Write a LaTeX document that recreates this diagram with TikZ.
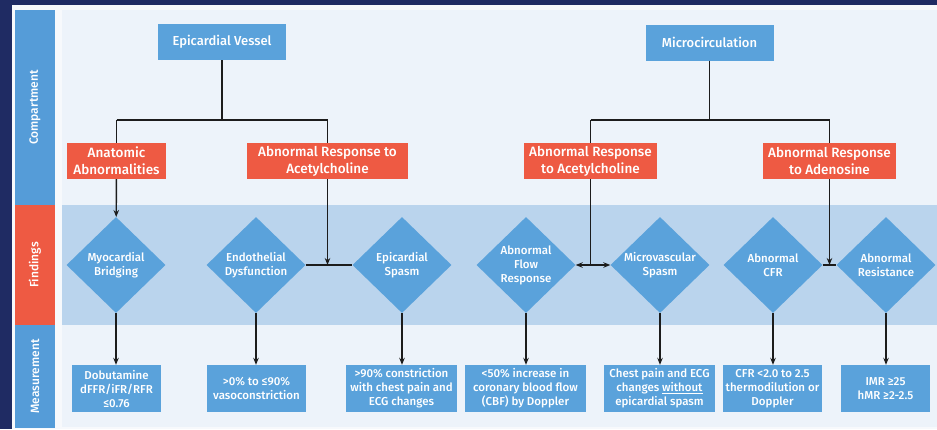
\documentclass[tikz,border=0pt]{standalone}
\usepackage{fontspec}
\IfFontExistsTF{Fira Sans Medium}
  {\setmainfont{Fira Sans}[BoldFont={Fira Sans Medium}]}
  {\setmainfont{Fira Sans}}
\usetikzlibrary{positioning,arrows.meta,shapes.geometric,calc}
\definecolor{navy}{HTML}{1F2B63}
\definecolor{paper}{HTML}{F7F9FC}
\definecolor{panel}{HTML}{EDF3FA}
\definecolor{band}{HTML}{BAD4ED}
\definecolor{boxblue}{HTML}{5AA2DB}
\definecolor{colblue}{HTML}{559CD8}
\definecolor{boxred}{HTML}{EE5A43}
\definecolor{linkdark}{HTML}{1C1C1C}

\begin{document}
\begin{tikzpicture}[
  x=1pt, y=1pt,
  link/.style={draw=linkdark, line width=1.4pt},
  arr/.style={link, -{Stealth[length=7pt, width=5.5pt]}},
  % compartment headings at the top of each tree
  comp/.style={fill=boxblue, text=white, font=\fontsize{13}{16}\selectfont\bfseries,
               minimum width=128pt, minimum height=36pt, inner sep=0, align=center},
  % red trigger boxes
  trig/.style={fill=boxred, text=white, font=\fontsize{13.5}{17}\selectfont\bfseries,
               minimum height=36pt, inner sep=0, align=center},
  find/.style={diamond, fill=boxblue, text=white, inner sep=-3pt,
               minimum width=99pt, minimum height=96pt, align=center,
               font=\fontsize{11.5}{14}\selectfont\bfseries},
  meas/.style={fill=boxblue, text=white, minimum height=47pt, inner sep=0,
               align=center, font=\fontsize{11.5}{14}\selectfont\bfseries},
  side/.style={rotate=90, text=white, font=\fontsize{12}{14}\selectfont\bfseries}
]
\useasboundingbox (0,0) rectangle (937,-429);

% ══ backgrounds ════════════════════════════════════════════════════════════
\fill[navy] (0,0) rectangle (937,-429);
\fill[paper] (12,-5) rectangle (937,-429);
\fill[panel] (62,-10) rectangle (937,-205);
\fill[band]  (62,-205) rectangle (937,-325);
\fill[panel] (62,-325) rectangle (937,-427);

% ══ side column ════════════════════════════════════════════════════════════
\fill[colblue] (15,-10) rectangle (55,-205);
\fill[boxred]  (15,-205) rectangle (55,-325);
\fill[colblue] (15,-325) rectangle (55,-428);
\node[side] (sc) at (35,-107.5) {Compartment};
\node[side] (sf) at (35,-265) {Findings};
\node[side] (sm) at (35,-376.5) {Measurement};

% ══ compartments ═══════════════════════════════════════════════════════════
\node[comp] (ev) at (222,-42) {Epicardial Vessel};
\node[comp] (mc) at (709.5,-42.5) {Microcirculation};

% ══ triggers ═══════════════════════════════════════════════════════════════
\node[trig, minimum width=99pt]  (aa)  at (116.5,-161) {Anatomic\\Abnormalities};
\node[trig, minimum width=161pt] (acl) at (327.5,-161) {Abnormal Response to\\Acetylcholine};
\node[trig, minimum width=133pt] (acr) at (590.5,-161) {Abnormal Response\\to Acetylcholine};
\node[trig, minimum width=133pt] (ado) at (829.5,-161) {Abnormal Response\\to Adenosine};

% ══ findings ═══════════════════════════════════════════════════════════════
\node[find] (mb)  at (116,-265) {Myocardial\\Bridging};
\node[find] (ed)  at (256,-265) {Endothelial\\Dysfunction};
\node[find] (es)  at (402,-265) {Epicardial\\Spasm};
\node[find] (af)  at (526,-265) {Abnormal\\Flow\\Response};
\node[find] (ms)  at (660,-265) {Microvascular\\Spasm};
\node[find] (cfr) at (773,-265) {Abnormal\\CFR};
\node[find] (res) at (886,-265) {Abnormal\\Resistance};

% ══ measurements ═══════════════════════════════════════════════════════════
\node[meas, minimum width=89pt]  (m1) at (116.5,-388.5) {Dobutamine\\dFFR/iFR/RFR\\≤0.76};
\node[meas, minimum width=99pt]  (m2) at (256.5,-388.5) {>0\% to ≤90\%\\vasoconstriction};
\node[meas, minimum width=111pt] (m3) at (401.5,-388.5) {>90\% constriction\\with chest pain and\\ECG changes};
\node[meas, minimum width=121pt] (m4) at (525.5,-388.5) {<50\% increase in\\coronary blood flow\\(CBF) by Doppler};
\node[meas, minimum width=111pt] (m5) at (659.5,-388.5) {Chest pain and ECG\\changes \underline{without}\\epicardial spasm};
\node[meas, minimum width=99pt]  (m6) at (772.5,-388.5) {CFR <2.0 to 2.5\\thermodilution or\\Doppler};
\node[meas, minimum width=89pt]  (m7) at (885.5,-388.5) {IMR ≥25\\hMR ≥2-2.5};

% ══ trees ══════════════════════════════════════════════════════════════════
\coordinate (evj) at (222,-120);
\coordinate (mcj) at (709.5,-120);
\draw[link] (ev) -- (evj);
\draw[link] (116.5,-120) -- (327.5,-120);
\draw[link] (aa.north) -- (aa.north |- evj);
\draw[link] (acl.north) -- (acl.north |- evj);
\draw[link] (mc) -- (mcj);
\draw[link] (590.5,-120) -- (829.5,-120);
\draw[link] (acr.north) -- (acr.north |- mcj);
\draw[link] (ado.north) -- (ado.north |- mcj);

% ══ trigger -> finding ═════════════════════════════════════════════════════
\draw[arr] (aa) -- (mb);
\draw[link] (ed.east) -- (es.west);
\draw[arr] (acl.south) -- (acl.south |- ed.east);
\draw[link, {Stealth[length=7pt, width=5.5pt]}-{Stealth[length=7pt, width=5.5pt]}] (af.east) -- (ms.west);
\draw[link] (acr.south) -- (acr.south |- af.east);
\draw[link] (cfr.east) -- (res.west);
\draw[arr] (ado.south) -- (ado.south |- cfr.east);

% ══ finding -> measurement ═════════════════════════════════════════════════
\foreach \f/\m in {mb/m1, ed/m2, es/m3, af/m4, ms/m5, cfr/m6, res/m7}{
  \draw[arr] (\f.south) -- (\f.south |- \m.north);
}

\end{tikzpicture}
\end{document}
